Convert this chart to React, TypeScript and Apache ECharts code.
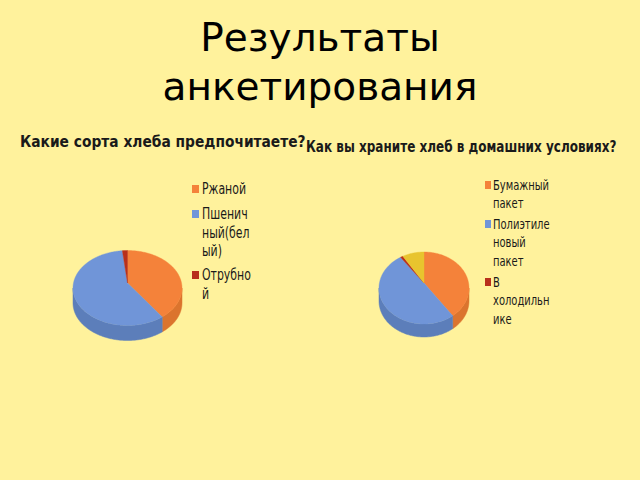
import React, { useEffect, useRef } from "react";
import * as echarts from "echarts";

const mainTitle = "Результаты\nанкетирования";
const leftTitle = "Какие сорта хлеба предпочитаете?";
const rightTitle = "Как вы храните хлеб в домашних условиях?";

const leftCategories = ["Ржаной", "Пшеничный(белый)", "Отрубной"];
const leftLabels = ["Ржаной", "Пшенич\nный(бел\nый)", "Отрубно\nй"];
const leftValues = [39, 59.5, 1.5];

const rightCategories = ["Бумажный пакет", "Полиэтиленовый пакет", "В холодильнике", "Другое"];
const rightLabels = ["Бумажный\nпакет", "Полиэтиле\nновый\nпакет", "В\nхолодильн\nике"];
const rightValues = [39, 52.3, 0.9, 7.8];

const topColors = ["#F4823A", "#7095D8", "#B8301C", "#E8C42E"];
const sideColors = ["#DB742E", "#5C7EBA", "#8E2412", "#BF9E20"];

const BG = "#FFF29C";
const INK = "#1a1a1a";
const FONT = "'DejaVu Sans Condensed', 'DejaVu Sans', sans-serif";

type Pie = { cx: number; cy: number; rx: number; ry: number; depth: number; apex: number };

function slices(categories: string[], values: number[], pie: Pie) {
  const total = values.reduce((a, b) => a + b, 0);
  let acc = 0;
  return categories.map((name, i) => {
    const start = (acc / total) * 360;
    acc += values[i];
    const end = (acc / total) * 360;
    return {
      type: "custom",
      name,
      coordinateSystem: "none",
      itemStyle: { color: topColors[i] },
      data: [[values[i]]],
      silent: true,
      renderItem: () => {
        const pt = (deg: number, dy = 0) => {
          const r = (deg * Math.PI) / 180;
          return [pie.cx + pie.rx * Math.sin(r), pie.cy - pie.ry * Math.cos(r) + dy];
        };
        const children: any[] = [];
        const a = Math.max(start, 90);
        const b = Math.min(end, 270);
        if (b > a) {
          const pts: number[][] = [];
          for (let d = a; d < b; d += 1) pts.push(pt(d));
          pts.push(pt(b));
          for (let d = b; d > a; d -= 1) pts.push(pt(d, pie.depth));
          pts.push(pt(a, pie.depth));
          children.push({
            type: "polygon",
            shape: { points: pts },
            style: { fill: sideColors[i], stroke: sideColors[i], lineWidth: 0.5 },
          });
        }
        const top: number[][] = [[pie.cx, pie.cy + pie.apex]];
        for (let d = start; d < end; d += 1) top.push(pt(d));
        top.push(pt(end));
        children.push({
          type: "polygon",
          shape: { points: top },
          style: { fill: topColors[i], stroke: topColors[i], lineWidth: 0.4 },
        });
        return { type: "group", children };
      },
    };
  });
}

// Swatches only; the squeezed label text is drawn beside them.
function swatches(categories: string[], left: number, centers: number[], w: number) {
  return centers.map((c, i) => ({
    show: true,
    left,
    top: c - 4,
    padding: 0,
    itemWidth: w,
    itemHeight: 8,
    itemGap: 0,
    selectedMode: false,
    icon: "rect",
    data: [{ name: categories[i], itemStyle: { color: topColors[i] } }],
    formatter: () => "",
  }));
}

function squeezed(text: string, x: number, y: number, size: number, scaleX: number, weight = "normal", lh = 18.5) {
  return {
    type: "text",
    x,
    y,
    scaleX,
    silent: true,
    style: {
      text,
      fontFamily: FONT,
      fontSize: size,
      fontWeight: weight,
      lineHeight: lh,
      fill: INK,
      verticalAlign: "top",
      align: "left",
    },
  };
}

function labelTexts(labels: string[], x: number, centers: number[], size: number, scaleX: number) {
  return labels.map((l, i) => squeezed(l, x, centers[i] - 9.25, size, scaleX));
}

const leftCenters = [189, 214, 275];
const rightCenters = [185, 224, 282];

export default function App() {
  const ref = useRef<HTMLDivElement>(null);
  useEffect(() => {
    document.body.style.margin = "0";
    document.body.style.background = BG;
    const chart = echarts.init(ref.current!, undefined, { renderer: "svg" });
    chart.setOption({
      animation: false,
      backgroundColor: BG,
      title: {
        text: mainTitle,
        left: 320,
        top: 13,
        padding: 0,
        textAlign: "center",
        textStyle: { fontFamily: "'DejaVu Sans', sans-serif", fontSize: 39, fontWeight: "normal", color: "#000", lineHeight: 49 },
      },
      legend: [
        ...swatches(leftCategories, 192, leftCenters, 7),
        ...swatches(rightCategories, 485, rightCenters, 6),
      ],
      graphic: [
        squeezed(leftTitle, 20, 131, 16.5, 0.93, "bold", 20),
        squeezed(rightTitle, 306, 136, 16, 0.836, "bold", 20),
        ...labelTexts(leftLabels, 202, leftCenters, 15, 0.81),
        ...labelTexts(rightLabels, 493, rightCenters, 14, 0.79),
      ],
      series: [
        ...slices(leftCategories, leftValues, { cx: 127.5, cy: 288, rx: 54.5, ry: 37.5, depth: 15, apex: -5 }),
        ...slices(rightCategories, rightValues, { cx: 424, cy: 288, rx: 45, ry: 36, depth: 13, apex: -5 }),
      ],
    });
    return () => chart.dispose();
  }, []);
  return <div ref={ref} style={{ position: "absolute", left: 0, top: 0, width: 640, height: 480 }} />;
}
